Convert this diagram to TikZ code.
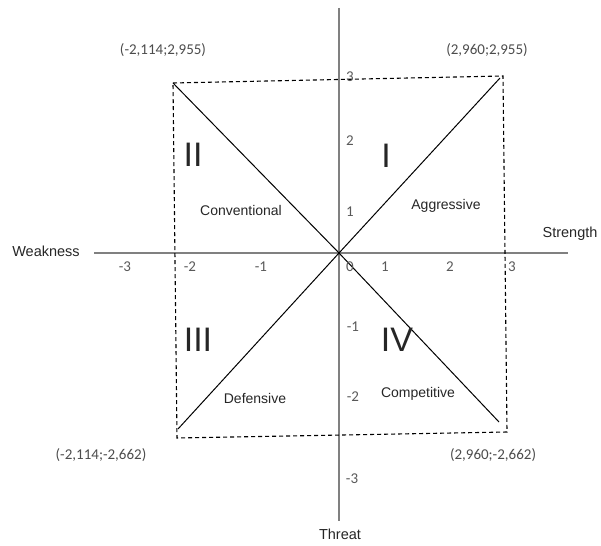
\documentclass[tikz,border=0pt]{standalone}
\usepackage{fontspec}
\setmainfont{Liberation Sans}
\newfontfamily\numfont{Carlito}
\begin{document}
\begin{tikzpicture}[x=1pt,y=-1pt,
  axisline/.style={draw=black!50,line width=1.6pt},
  diag/.style={draw=black,line width=1pt},
  dashbox/.style={draw=black,line width=1.1pt,dash pattern=on 4pt off 3pt},
  word/.style={font=\fontsize{14.5}{16}\selectfont,text=black!85,inner sep=0pt},
  qname/.style={font=\fontsize{14}{16}\selectfont,text=black!85,inner sep=0pt},
  roman/.style={font=\fontsize{34}{38}\selectfont,text=black!85,inner sep=0pt},
  tick/.style={font=\numfont\fontsize{15}{17}\selectfont,text=black!65,inner sep=0pt},
  coordlab/.style={font=\numfont\fontsize{15}{17}\selectfont,text=black!70,inner sep=0pt}]
\useasboundingbox (0,0) rectangle (601,545);
% key points
\coordinate (O) at (339,253);
\coordinate (vtop) at (339,8);
\coordinate (vbot) at (339,521);
\coordinate (hleft) at (94,253);
\coordinate (hright) at (568,253);
\coordinate (bTL) at (173,83);
\coordinate (bTR) at (503,76);
\coordinate (bBR) at (507,432);
\coordinate (bBL) at (177,438);
\coordinate (dTL) at (173,83);
\coordinate (dTR) at (500,78);
\coordinate (dBR) at (499,422);
\coordinate (dBL) at (178,429);
% axes
\draw[axisline] (vtop) -- (vbot);
\draw[axisline] (hleft) -- (hright);
% dashed box
\draw[dashbox] (bTL) -- (bTR) -- (bBR) -- (bBL) -- cycle;
% diagonals
\draw[diag] (dTL) -- (O) -- (dBR);
\draw[diag] (dTR) -- (O) -- (dBL);
% axis names
\node[word] (weak) at (46,251) {Weakness};
\node[word] (str) at (570,234) {Strength};
\node[word] (thr) at (340,534) {Threat};
% ticks horizontal
\node[tick] (hm3) at (125,267) {-3};
\node[tick] (hm2) at (190,267) {-2};
\node[tick] (hm1) at (261,267) {-1};
\node[tick] (h0) at (350,267) {0};
\node[tick] (h1) at (385,267) {1};
\node[tick] (h2) at (450,267) {2};
\node[tick] (h3) at (512,267) {3};
% ticks vertical
\node[tick] (v3) at (350,77) {3};
\node[tick] (v2) at (350,141) {2};
\node[tick] (v1) at (350,212) {1};
\node[tick] (vm1) at (353,327) {-1};
\node[tick] (vm2) at (353,397) {-2};
\node[tick] (vm3) at (352,479) {-3};
% corner coordinates
\node[coordlab] (cTL) at (163,50) {(-2,114;2,955)};
\node[coordlab] (cTR) at (487,50) {(2,960;2,955)};
\node[coordlab] (cBL) at (101,455) {(-2,114;-2,662)};
\node[coordlab] (cBR) at (493,455) {(2,960;-2,662)};
% quadrant numerals
\node[roman] (qII) at (193,155) {II};
\node[roman] (qI) at (386,156) {I};
\node[roman] (qIII) at (198,340) {III};
\node[roman] (qIV) at (397,340) {IV};
% quadrant names
\node[qname] (conv) at (241,210) {Conventional};
\node[qname] (aggr) at (446,206) {Aggressive};
\node[qname] (def) at (255,398) {Defensive};
\node[qname] (comp) at (418,394) {Competitive};
\end{tikzpicture}
\end{document}
